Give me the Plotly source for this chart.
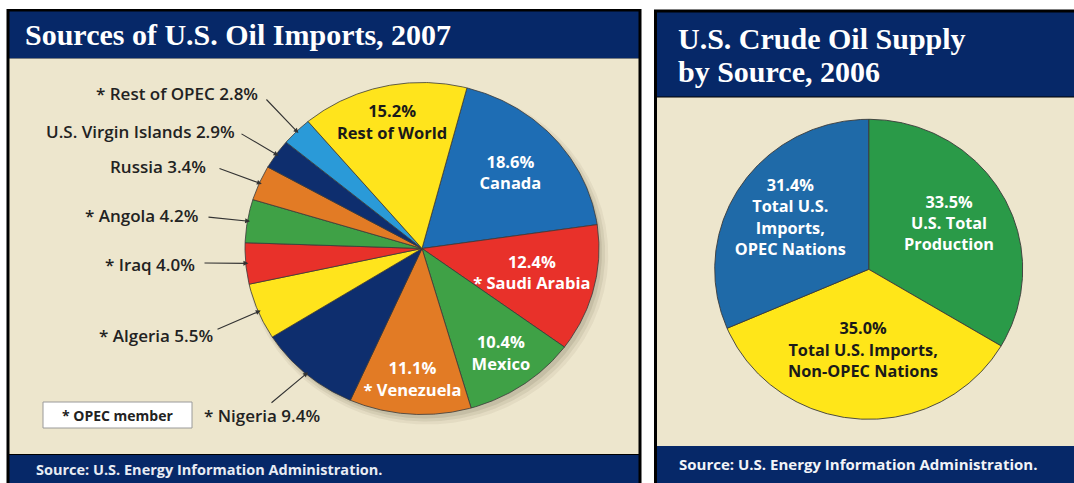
import numpy as np
import plotly.graph_objects as go

# ---------------- data ----------------
# Sources of U.S. oil imports, 2007 (percent of total imports), clockwise from Canada
import_names = ["Canada", "Saudi Arabia", "Mexico", "Venezuela", "Nigeria", "Algeria",
                "Iraq", "Angola", "Russia", "U.S. Virgin Islands", "Rest of OPEC", "Rest of World"]
import_share = [18.6, 12.4, 10.4, 11.1, 9.4, 5.5, 4.0, 4.2, 3.4, 2.9, 2.8, 15.2]
import_opec = [False, True, False, True, True, True, True, True, False, False, True, False]

# U.S. crude oil supply by source, 2006 (percent), clockwise from 12 o'clock
supply_names = ["U.S. Total<br>Production",
                "Total U.S. Imports,<br>Non-OPEC Nations",
                "Total U.S.<br>Imports,<br>OPEC Nations"]
supply_share = [33.5, 35.0, 31.4]

# ---------------- styling ----------------
NAVY = "#062868"
CREAM = "#EDE6CD"
EDGE = "#3a3a3a"
import_colors = ["#1E6DB4", "#E8312A", "#3FA146", "#E27B25", "#0E2E6E", "#FFE41C",
                 "#E8312A", "#3FA146", "#E27B25", "#0E2E6E", "#2A9AD8", "#FFE41C"]
import_text_colors = {"Canada": "white", "Saudi Arabia": "white", "Mexico": "white",
                      "Venezuela": "white", "Rest of World": "#1a1a1a"}
supply_colors = ["#2A9A48", "#FFE619", "#1F6AA8"]
supply_text_colors = ["white", "#1a1a1a", "white"]

SANS = "Open Sans"
SERIF = "Liberation Serif"

W, H = 1074, 483


def px(x):
    return x / W


def py(y):
    return 1 - y / H


# pie placement (pixels): plot box, centre, radii
L_BOX = (9.5, 58.5, 638.5, 454.0)
L_C, L_R = (422.0, 248.5), (177.0, 166.0)
L_ROT = 14.7
R_BOX = (657.0, 97.5, 1074.0, 446.0)
R_C, R_R = (868.7, 269.3), (154.0, 150.0)
R_ROT = 0.0


def slice_angles(values, rotation):
    total = float(sum(values))
    cum = np.concatenate([[0.0], np.cumsum(values)]) / total * 360.0 + rotation
    return cum[:-1], cum[1:]


def wedge(a0, a1, r=1.0, dx=0.0, dy=0.0):
    n = max(int(abs(a1 - a0) * 2), 6)
    t = np.radians(np.linspace(a0, a1, n))
    x = np.concatenate([[0.0], r * np.sin(t), [0.0]]) + dx
    y = np.concatenate([[0.0], r * np.cos(t), [0.0]]) + dy
    return x, y


def polar(angle, r):
    a = np.radians(angle)
    return r * np.sin(a), r * np.cos(a)


def to_left(xp, yp):
    return (xp - L_C[0]) / L_R[0], (L_C[1] - yp) / L_R[1]


fig = go.Figure()

# ---- soft shadow under the import pie ----
for k, alpha in enumerate([0.10, 0.08, 0.06]):
    sx, sy = wedge(0, 360, r=1.0 + 0.012 * k, dx=(3 + k) / L_R[0], dy=-(4 + k) / L_R[1])
    fig.add_trace(go.Scatter(x=sx[1:-1], y=sy[1:-1], fill="toself", mode="lines",
                             line=dict(width=0), fillcolor=f"rgba(70,55,30,{alpha})",
                             hoverinfo="skip", showlegend=False, xaxis="x", yaxis="y"))

# ---- import slices ----
a0s, a1s = slice_angles(import_share, L_ROT)
for name, val, opec, col, a0, a1 in zip(import_names, import_share, import_opec,
                                        import_colors, a0s, a1s):
    x, y = wedge(a0, a1)
    fig.add_trace(go.Scatter(x=x, y=y, fill="toself", mode="lines", fillcolor=col,
                             line=dict(color=EDGE, width=0.8),
                             hoveron="fills", hoverinfo="text",
                             text=f"{'* ' if opec else ''}{name}: {val:.1f}%",
                             showlegend=False, xaxis="x", yaxis="y"))

# labels inside the large import slices (radial position as a fraction of the radius)
inner_radius = {"Canada": 0.67, "Saudi Arabia": 0.64, "Mexico": 0.78,
                "Venezuela": 0.80, "Rest of World": 0.77}
for name, val, opec, a0, a1 in zip(import_names, import_share, import_opec, a0s, a1s):
    if name not in inner_radius:
        continue
    tx, ty = polar((a0 + a1) / 2, inner_radius[name])
    fig.add_trace(go.Scatter(x=[tx], y=[ty], mode="text",
                             text=[f"{val:.1f}%<br>{'* ' if opec else ''}{name}"],
                             textposition="middle center",
                             textfont=dict(family=SANS, size=16.5, weight="bold",
                                           color=import_text_colors[name]),
                             hoverinfo="skip", showlegend=False, xaxis="x", yaxis="y"))

# call-out labels for the small import slices: text anchor and arrow tail in pixels
callouts = {
    "Rest of OPEC": dict(text=(260, 93, "right"), tail=(265, 98)),
    "U.S. Virgin Islands": dict(text=(237, 131, "right"), tail=(240, 133)),
    "Russia": dict(text=(208, 167, "right"), tail=(218, 168)),
    "Angola": dict(text=(200, 215, "right"), tail=(207, 217)),
    "Iraq": dict(text=(197, 264, "right"), tail=(203, 263)),
    "Algeria": dict(text=(215, 335, "right"), tail=(216, 330)),
    "Nigeria": dict(text=(202, 415, "left"), tail=(270, 404)),
}
annotations = []
for name, val, opec, a0, a1 in zip(import_names, import_share, import_opec, a0s, a1s):
    if name not in callouts:
        continue
    c = callouts[name]
    tx, ty, anchor = c["text"]
    annotations.append(dict(
        x=px(tx), y=py(ty), xref="paper", yref="paper", xanchor=anchor, yanchor="middle",
        text=f"{'* ' if opec else ''}{name} {val:.1f}%", showarrow=False,
        font=dict(family=SANS, size=17, weight=600, color="#222222")))
    hx, hy = polar((a0 + a1) / 2, 0.985)
    ax, ay = to_left(*c["tail"])
    annotations.append(dict(
        x=hx, y=hy, xref="x", yref="y", ax=ax, ay=ay, axref="x", ayref="y",
        text="", showarrow=True, arrowhead=2, arrowsize=0.9, arrowwidth=1.1,
        arrowcolor="#333333"))

# ---- supply slices ----
b0s, b1s = slice_angles(supply_share, R_ROT)
for name, val, col, a0, a1 in zip(supply_names, supply_share, supply_colors, b0s, b1s):
    x, y = wedge(a0, a1)
    fig.add_trace(go.Scatter(x=x, y=y, fill="toself", mode="lines", fillcolor=col,
                             line=dict(color=EDGE, width=0.9),
                             hoveron="fills", hoverinfo="text",
                             text=f"{name.replace('<br>', ' ')}: {val:.1f}%",
                             showlegend=False, xaxis="x2", yaxis="y2"))

supply_radius = [0.60, 0.55, 0.61]
for name, val, tc, a0, a1, r in zip(supply_names, supply_share, supply_text_colors,
                                    b0s, b1s, supply_radius):
    tx, ty = polar((a0 + a1) / 2, r)
    fig.add_trace(go.Scatter(x=[tx], y=[ty], mode="text", text=[f"{val:.1f}%<br>{name}"],
                             textposition="middle center",
                             textfont=dict(family=SANS, size=16.3, weight="bold", color=tc),
                             hoverinfo="skip", showlegend=False, xaxis="x2", yaxis="y2"))

# ---------------- panels ----------------
def rect(x0, y0, x1, y1, fill, line=None, width=0):
    return dict(type="rect", xref="paper", yref="paper", layer="below",
                x0=px(x0), x1=px(x1), y0=py(y1), y1=py(y0),
                fillcolor=fill, line=dict(color=line or fill, width=width))


shapes = [
    # left panel
    rect(6.5, 9, 641.5, 495, "black"),
    rect(9.5, 11.5, 638.5, 58.5, NAVY),
    rect(9.5, 58.5, 638.5, 454, CREAM),
    rect(9.5, 455, 638.5, 495, NAVY),
    # right panel
    rect(654, 9.5, 1080, 495, "black"),
    rect(657, 12.5, 1080, 96.5, NAVY),
    rect(657, 97.5, 1080, 446, CREAM),
    rect(657, 446, 1080, 495, NAVY),
]
# OPEC key box
shapes.append(dict(type="rect", xref="paper", yref="paper", layer="above",
                   x0=px(43), x1=px(192), y0=py(428), y1=py(402),
                   fillcolor="white", line=dict(color="#9a9a9a", width=1)))

title_font = dict(family=SERIF, size=30, weight="bold", color="white")
annotations += [
    dict(x=px(117.5), y=py(415), xref="paper", yref="paper", xanchor="center",
         yanchor="middle", text="* OPEC member", showarrow=False,
         font=dict(family=SANS, size=14, weight="bold", color="#222222")),
    dict(x=px(23), y=py(35), xref="paper", yref="paper", xanchor="left", yanchor="middle",
         text="Sources of U.S. Oil Imports, 2007", showarrow=False, font=title_font),
    dict(x=px(676), y=py(38), xref="paper", yref="paper", xanchor="left", yanchor="middle",
         text="U.S. Crude Oil Supply", showarrow=False, font=title_font),
    dict(x=px(676), y=py(71), xref="paper", yref="paper", xanchor="left", yanchor="middle",
         text="by Source, 2006", showarrow=False, font=title_font),
    dict(x=px(34), y=py(469), xref="paper", yref="paper", xanchor="left", yanchor="middle",
         text="Source: U.S. Energy Information Administration.", showarrow=False,
         font=dict(family=SANS, size=14.5, weight="bold", color="#e8ecf4")),
    dict(x=px(677), y=py(464), xref="paper", yref="paper", xanchor="left", yanchor="middle",
         text="Source: U.S. Energy Information Administration.", showarrow=False,
         font=dict(family=SANS, size=15, weight="bold", color="#f2f4f8")),
]


def axis_pair(box, c, r):
    x0, y0, x1, y1 = box
    xa = dict(domain=[px(x0), px(x1)], range=[(x0 - c[0]) / r[0], (x1 - c[0]) / r[0]],
              visible=False, fixedrange=True, showgrid=False, zeroline=False)
    ya = dict(domain=[py(y1), py(y0)], range=[(c[1] - y1) / r[1], (c[1] - y0) / r[1]],
              visible=False, fixedrange=True, showgrid=False, zeroline=False)
    return xa, ya


xa1, ya1 = axis_pair(L_BOX, L_C, L_R)
xa2, ya2 = axis_pair(R_BOX, R_C, R_R)
xa2["anchor"] = "y2"
ya2["anchor"] = "x2"
xa1["anchor"] = "y"
ya1["anchor"] = "x"

fig.update_layout(
    width=W, height=H, margin=dict(l=0, r=0, t=0, b=0),
    paper_bgcolor="white", plot_bgcolor="rgba(0,0,0,0)",
    xaxis=xa1, yaxis=ya1, xaxis2=xa2, yaxis2=ya2,
    shapes=shapes, annotations=annotations, showlegend=False,
    hovermode="closest",
)

fig.write_html("out.html")
